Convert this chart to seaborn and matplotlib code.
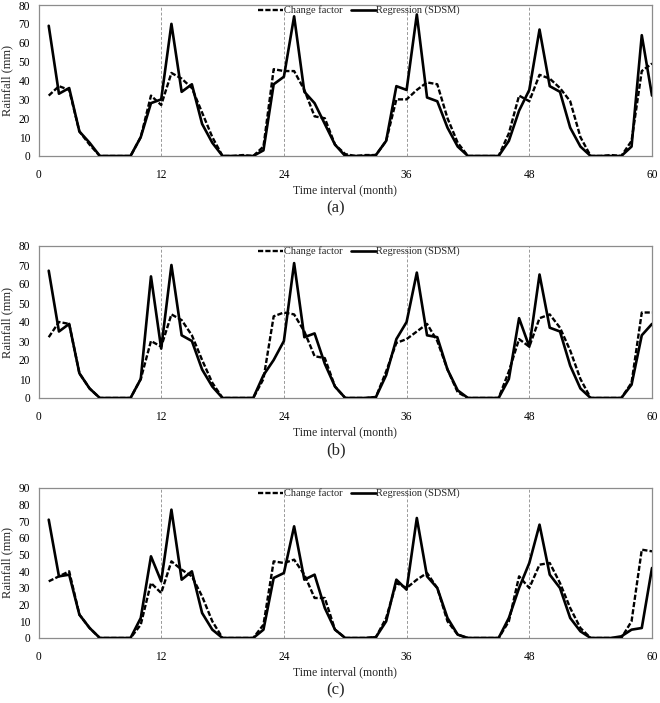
import numpy as np
import pandas as pd
import matplotlib
matplotlib.use('Agg')
import matplotlib.pyplot as plt
import seaborn as sns

# Monthly rainfall (mm), months 1..60
months = list(range(1, 61))

cf_a = [32, 37, 35, 13, 6, 0, 0, 0, 0, 10, 32, 27, 44, 41, 36, 23, 10, 0, 0, 0.5,
        0, 5, 46, 45, 45, 35, 21, 20, 6, 1, 0, 0.5, 0.5, 8, 30, 30, 35, 39, 38, 20,
        7, 0, 0, 0, 0, 12, 32, 29, 43, 41, 36, 29, 10, 0, 0, 0.5, 0, 8, 45, 49]
sdsm_a = [69, 33, 36, 13, 7, 0, 0, 0, 0, 10, 28, 30, 70, 34, 38, 17, 7, 0, 0, 0,
          0, 3, 38, 42, 74, 34, 28, 17, 6, 0, 0, 0, 0.5, 8, 37, 35, 75, 31, 29, 15,
          5, 0, 0, 0, 0, 8, 24, 35, 67, 37, 34, 15, 5, 0, 0, 0, 0, 5, 64, 32]

cf_b = [32, 40, 39, 13, 5, 0, 0, 0, 0, 10, 30, 27, 44, 41, 33, 20, 8, 0, 0, 0,
        0, 10, 43, 45, 44, 35, 22, 21, 6, 0, 0, 0, 0.5, 14, 29, 31, 35, 39, 30, 15,
        3, 0, 0, 0, 0, 14, 31, 27, 42, 44, 37, 25, 10, 0, 0, 0, 0, 8, 45, 45]
sdsm_b = [67, 35, 39, 13, 5, 0, 0, 0, 0, 10, 64, 26, 70, 33, 30, 15, 6, 0, 0, 0,
          0, 12, 20, 30, 71, 32, 34, 18, 6, 0, 0, 0, 0.5, 12, 31, 40, 66, 33, 32, 15,
          4, 0, 0, 0, 0, 10, 42, 27, 65, 37, 35, 17, 5, 0, 0, 0, 0, 7, 33, 39]

cf_c = [34, 37, 40, 14, 6, 0, 0, 0, 0, 8, 33, 27, 46, 41, 37, 25, 10, 0, 0, 0,
        0, 8, 46, 45, 47, 38, 24, 24, 5, 0, 0, 0, 0.5, 12, 33, 30, 35, 39, 30, 10,
        2, 0, 0, 0, 0, 10, 37, 30, 44, 45, 33, 18, 6, 0, 0, 0, 0, 10, 53, 52]
sdsm_c = [71, 37, 38, 14, 6, 0, 0, 0, 0, 12, 49, 34, 77, 35, 40, 15, 5, 0, 0, 0,
          0, 5, 36, 39, 67, 35, 38, 18, 5, 0, 0, 0, 0.5, 10, 35, 29, 72, 37, 30, 12,
          2, 0, 0, 0, 0, 12, 30, 45, 68, 38, 30, 12, 4, 0, 0, 0, 1, 5, 6, 42]

panels = [('(a)', cf_a, sdsm_a, 80), ('(b)', cf_b, sdsm_b, 80), ('(c)', cf_c, sdsm_c, 90)]
year_marks = [12, 24, 36, 48]
x_ticks = [0, 12, 24, 36, 48, 60]

sns.set_theme(style='white')
plt.rcParams['font.family'] = ['Liberation Serif', 'DejaVu Serif']

W, H = 660, 703
fig = plt.figure(figsize=(W / 100, H / 100), dpi=100)

# axes boxes in pixels: (top, bottom)
boxes = [(5, 156), (246, 398), (488, 638)]
left_px, right_px = 38.5, 652

for (tag, cf, sdsm, ymax), (top, bot) in zip(panels, boxes):
    ax = fig.add_axes([left_px / W, 1 - bot / H, (right_px - left_px) / W, (bot - top) / H])
    for xm in year_marks:
        ax.axvline(xm, color='#999999', lw=0.7, ls=(0, (3, 2)), zorder=1)
    sns.lineplot(x=months, y=cf, ax=ax, color='black', lw=1.7,
                 linestyle=(0, (2.2, 0.9)), label='Change factor', zorder=3)
    sns.lineplot(x=months, y=sdsm, ax=ax, color='black', lw=1.9,
                 label='Regression (SDSM)', zorder=4)
    ax.set_xlim(0, 60)
    ax.set_ylim(0, ymax)
    ax.set_xticks(x_ticks)
    ax.set_yticks(np.arange(0, ymax + 1, 10))
    ax.tick_params(axis='both', length=0, labelsize=8.3, colors='black')
    ax.tick_params(axis='x', pad=9)
    ax.tick_params(axis='y', pad=6)
    for s in ax.spines.values():
        s.set_color('#8c8c8c')
        s.set_linewidth(0.9)
    ax.set_ylabel('Rainfall (mm)', fontsize=9, labelpad=4)
    ax.set_xlabel('')
    h = bot - top
    ax.text(0.5, -34 / h, 'Time interval (month)', transform=ax.transAxes,
            ha='center', va='center', fontsize=8.5)
    ax.text(0.485, -52 / h, tag, transform=ax.transAxes,
            ha='center', va='center', fontsize=12)
    ax.legend(loc='center', bbox_to_anchor=((359 - left_px) / (right_px - left_px), 1 - 5.5 / h),
              ncol=2, frameon=False, fontsize=7.5, handlelength=2.4,
              handletextpad=0.05, columnspacing=0.8, borderpad=0, borderaxespad=0)

fig.savefig('out.png', dpi=100)
